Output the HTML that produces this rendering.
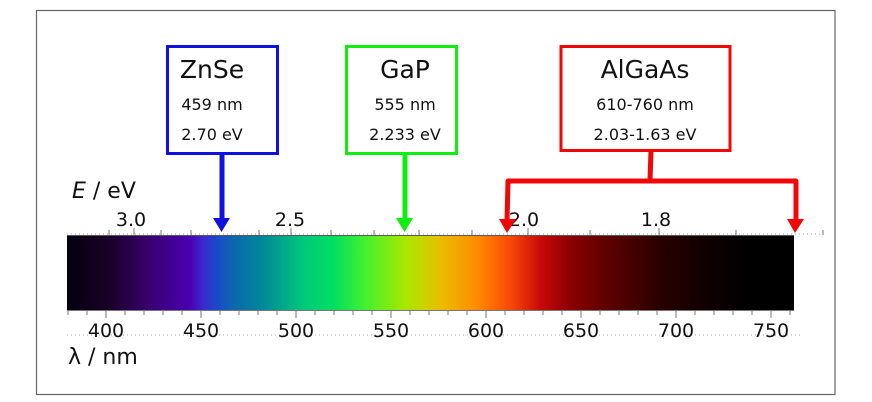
<!DOCTYPE html>
<html><head><meta charset="utf-8"><style>
html,body{margin:0;padding:0;background:#fff;width:872px;height:402px;overflow:hidden}
svg{display:block;font-family:"DejaVu Sans","Liberation Sans",sans-serif}
</style></head><body>
<svg width="872" height="402" viewBox="0 0 872 402" xmlns="http://www.w3.org/2000/svg">
<defs>
<linearGradient id="sp" x1="0" x2="1" y1="0" y2="0">
<stop offset="0" stop-color="#05000f"/>
<stop offset="0.059" stop-color="#1a0028"/>
<stop offset="0.114" stop-color="#3a0070"/>
<stop offset="0.169" stop-color="#4a00b0"/>
<stop offset="0.188" stop-color="#3a2ad0"/>
<stop offset="0.206" stop-color="#1a4ac8"/>
<stop offset="0.236" stop-color="#0a6ea8"/>
<stop offset="0.266" stop-color="#00859a"/>
<stop offset="0.325" stop-color="#00c87a"/>
<stop offset="0.367" stop-color="#00e060"/>
<stop offset="0.408" stop-color="#40f030"/>
<stop offset="0.465" stop-color="#a8e800"/>
<stop offset="0.512" stop-color="#e8c000"/>
<stop offset="0.567" stop-color="#ff8800"/>
<stop offset="0.61" stop-color="#f84808"/>
<stop offset="0.652" stop-color="#c80808"/>
<stop offset="0.693" stop-color="#8a0000"/>
<stop offset="0.748" stop-color="#5a0000"/>
<stop offset="0.815" stop-color="#2a0000"/>
<stop offset="0.88" stop-color="#100000"/>
<stop offset="0.935" stop-color="#000"/>
<stop offset="1" stop-color="#000"/>
</linearGradient>
</defs>
<rect x="36.5" y="10.5" width="798.5" height="384" fill="none" stroke="#666" stroke-width="1.2"/>
<rect x="67" y="235" width="727" height="76" fill="url(#sp)"/>
<line x1="67" y1="235.5" x2="794" y2="235.5" stroke="#555" stroke-width="1"/>
<line x1="67" y1="310.5" x2="794" y2="310.5" stroke="#777" stroke-width="1"/>
<line x1="67" y1="234" x2="822" y2="234" stroke="#aaa" stroke-width="1" stroke-dasharray="1,3"/>
<g stroke="#777" stroke-width="1">
<line x1="109" y1="230" x2="109" y2="235"/><line x1="134" y1="228" x2="134" y2="235"/>
<line x1="161" y1="230" x2="161" y2="235"/><line x1="191" y1="230" x2="191" y2="235"/>
<line x1="259" y1="230" x2="259" y2="235"/><line x1="291" y1="228" x2="291" y2="235"/>
<line x1="331" y1="230" x2="331" y2="235"/><line x1="374" y1="230" x2="374" y2="235"/>
<line x1="419" y1="230" x2="419" y2="235"/><line x1="472" y1="230" x2="472" y2="235"/>
<line x1="528" y1="228" x2="528" y2="235"/><line x1="590" y1="230" x2="590" y2="235"/>
<line x1="659" y1="228" x2="659" y2="235"/><line x1="736" y1="230" x2="736" y2="235"/>
<line x1="823" y1="230" x2="823" y2="235"/>
</g>
<line x1="67" y1="335" x2="800" y2="335" stroke="#aaa" stroke-width="1" stroke-dasharray="1,3"/>
<g stroke="#777" stroke-width="1">
<line x1="68" y1="311" x2="68" y2="315"/><line x1="87" y1="311" x2="87" y2="315"/>
<line x1="106" y1="311" x2="106" y2="318"/><line x1="125" y1="311" x2="125" y2="315"/>
<line x1="144" y1="311" x2="144" y2="315"/><line x1="163" y1="311" x2="163" y2="315"/>
<line x1="182" y1="311" x2="182" y2="315"/><line x1="201" y1="311" x2="201" y2="318"/>
<line x1="220" y1="311" x2="220" y2="315"/><line x1="239" y1="311" x2="239" y2="315"/>
<line x1="258" y1="311" x2="258" y2="315"/><line x1="277" y1="311" x2="277" y2="315"/>
<line x1="296" y1="311" x2="296" y2="318"/><line x1="315" y1="311" x2="315" y2="315"/>
<line x1="334" y1="311" x2="334" y2="315"/><line x1="353" y1="311" x2="353" y2="315"/>
<line x1="372" y1="311" x2="372" y2="315"/><line x1="391" y1="311" x2="391" y2="318"/>
<line x1="410" y1="311" x2="410" y2="315"/><line x1="429" y1="311" x2="429" y2="315"/>
<line x1="448" y1="311" x2="448" y2="315"/><line x1="467" y1="311" x2="467" y2="315"/>
<line x1="486" y1="311" x2="486" y2="318"/><line x1="505" y1="311" x2="505" y2="315"/>
<line x1="524" y1="311" x2="524" y2="315"/><line x1="543" y1="311" x2="543" y2="315"/>
<line x1="562" y1="311" x2="562" y2="315"/><line x1="581" y1="311" x2="581" y2="318"/>
<line x1="600" y1="311" x2="600" y2="315"/><line x1="619" y1="311" x2="619" y2="315"/>
<line x1="638" y1="311" x2="638" y2="315"/><line x1="657" y1="311" x2="657" y2="315"/>
<line x1="676" y1="311" x2="676" y2="318"/><line x1="695" y1="311" x2="695" y2="315"/>
<line x1="714" y1="311" x2="714" y2="315"/><line x1="733" y1="311" x2="733" y2="315"/>
<line x1="752" y1="311" x2="752" y2="315"/><line x1="771" y1="311" x2="771" y2="318"/>
<line x1="790" y1="311" x2="790" y2="315"/>
</g>
<g font-size="19" fill="#111" text-anchor="middle">
<text x="106" y="337">400</text><text x="201" y="337">450</text><text x="296" y="337">500</text>
<text x="391" y="337">550</text><text x="486" y="337">600</text><text x="581" y="337">650</text>
<text x="676" y="337">700</text><text x="771" y="337">750</text>
<text x="131" y="226">3.0</text><text x="290" y="226">2.5</text>
<text x="524" y="226">2.0</text><text x="656" y="226">1.8</text>
</g>
<text x="68" y="364" font-size="22" fill="#111">λ / nm</text>
<text x="72" y="198" font-size="22" fill="#111"><tspan font-style="italic">E</tspan> / eV</text>
<rect x="167.5" y="46.5" width="110" height="107" fill="#fff" stroke="#1010e0" stroke-width="3"/>
<rect x="346.5" y="46.5" width="110" height="107" fill="#fff" stroke="#10ee10" stroke-width="3"/>
<rect x="561" y="46.5" width="169" height="104" fill="#fff" stroke="#f00808" stroke-width="3"/>
<g fill="#111" text-anchor="middle">
<text x="212" y="78" font-size="25">ZnSe</text>
<text x="212" y="110" font-size="16">459 nm</text>
<text x="212" y="140" font-size="16">2.70 eV</text>
<text x="405" y="78" font-size="25">GaP</text>
<text x="405" y="110" font-size="16">555 nm</text>
<text x="405" y="140" font-size="16">2.233 eV</text>
<text x="645" y="78" font-size="25">AlGaAs</text>
<text x="645" y="110" font-size="16">610-760 nm</text>
<text x="645" y="140" font-size="16">2.03-1.63 eV</text>
</g>
<rect x="219.5" y="155" width="5" height="64" fill="#1010e0"/>
<polygon points="213,218 230,218 221.5,232" fill="#1010e0"/>
<rect x="402.5" y="155" width="5" height="64" fill="#10ee10"/>
<polygon points="396,218 413,218 404.5,232" fill="#10ee10"/>
<g fill="none" stroke="#f00808" stroke-width="5" stroke-linejoin="round">
<polyline points="651,151 650,181"/>
<polyline points="507,221 508,181 796,181 796,221"/>
</g>
<polygon points="499,219 516,219 507,233" fill="#f00808"/>
<polygon points="787,219 804,219 795,233" fill="#f00808"/>
</svg>
</body></html>
